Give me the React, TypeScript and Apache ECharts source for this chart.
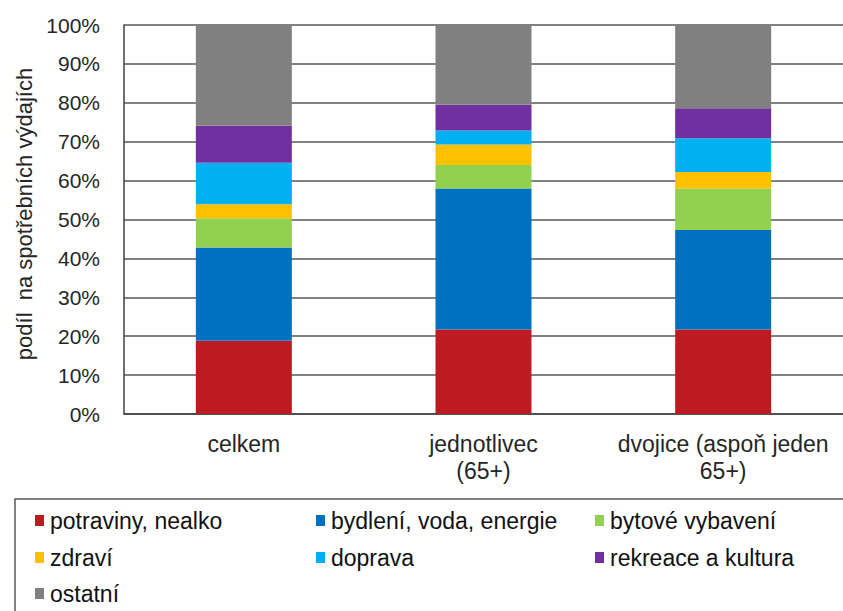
import React, { useEffect, useRef } from "react";
import * as echarts from "echarts";

const categories = ["celkem", "jednotlivec\n(65+)", "dvojice (aspoň jeden\n65+)"];
const seriesNames = [
  "potraviny, nealko",
  "bydlení, voda, energie",
  "bytové vybavení",
  "zdraví",
  "doprava",
  "rekreace a kultura",
  "ostatní",
];
const potraviny = [18.8, 21.7, 21.7];
const bydleni = [24.0, 36.3, 25.6];
const vybaveni = [7.5, 6.0, 10.7];
const zdravi = [3.6, 5.3, 4.2];
const doprava = [10.7, 3.6, 8.7];
const rekreace = [9.5, 6.6, 7.7];
const ostatni = [25.9, 20.5, 21.4];
const seriesValues = [potraviny, bydleni, vybaveni, zdravi, doprava, rekreace, ostatni];
const colors = ["#BE1A22", "#0070C0", "#92D050", "#FFC000", "#00B0F0", "#7030A0", "#808080"];
const yTicks = [0, 10, 20, 30, 40, 50, 60, 70, 80, 90, 100];

const FONT = "'Liberation Sans', Arial, sans-serif";

export default function App() {
  const ref = useRef<HTMLDivElement>(null);
  useEffect(() => {
    document.body.style.margin = "0";
    const chart = echarts.init(ref.current!, undefined, { renderer: "svg" });
    const colX = [30, 311, 590];
    const rowY = [504, 541, 577];
    const legends = seriesNames.map((n, i) => ({
      show: true,
      data: [n],
      left: colX[i % 3],
      top: rowY[Math.floor(i / 3)],
      icon: "rect",
      itemWidth: 9,
      itemHeight: 11,
      selectedMode: false,
      textStyle: { fontSize: 23, color: "#111", fontFamily: FONT, padding: [0, 0, 0, 1] },
    }));
    chart.setOption({
      animation: false,
      color: colors,
      textStyle: { fontFamily: FONT },
      grid: { left: 124, top: 25, width: 729, height: 389, containLabel: false },
      legend: legends,
      xAxis: {
        type: "category",
        data: categories,
        axisLine: { show: true, lineStyle: { color: "#404040", width: 1.5 } },
        axisTick: { show: false },
        axisLabel: { fontSize: 23, color: "#262626", fontFamily: FONT, margin: 16, lineHeight: 27, interval: 0 },
      },
      yAxis: {
        type: "value",
        min: yTicks[0],
        max: yTicks[yTicks.length - 1],
        interval: 10,
        axisLine: { show: true, lineStyle: { color: "#404040", width: 1.5 } },
        axisTick: { show: false },
        splitLine: { show: true, lineStyle: { color: "#595959", width: 1.5 } },
        axisLabel: { formatter: "{value}%", fontSize: 21, color: "#262626", fontFamily: FONT, margin: 24 },
      },
      graphic: [
        {
          type: "rect",
          shape: { x: 15, y: 499, width: 900, height: 200 },
          style: { fill: "none", stroke: "#595959", lineWidth: 1.5 },
          z: -1,
        },
        {
          type: "text",
          x: 24,
          y: 214,
          rotation: Math.PI / 2,
          style: {
            text: "podíl  na spotřebních výdajích",
            fontSize: 22,
            fontFamily: FONT,
            fill: "#262626",
            align: "center",
            verticalAlign: "middle",
          },
        },
      ],
      series: seriesNames.map((n, i) => ({
        name: n,
        type: "bar",
        stack: "total",
        barWidth: 96,
        data: seriesValues[i],
        itemStyle: { color: colors[i] },
      })),
    });
    return () => chart.dispose();
  }, []);
  return <div ref={ref} style={{ width: 843, height: 611 }} />;
}
